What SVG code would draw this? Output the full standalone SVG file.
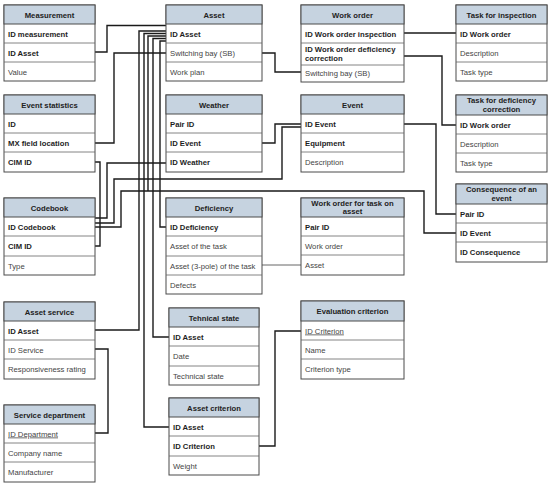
<svg xmlns="http://www.w3.org/2000/svg" width="550" height="486" viewBox="0 0 550 486">
<style>
.box{fill:#fff;stroke:#4a4a4a;stroke-width:1}
.hdr{fill:#c6d3e0;stroke:#4a4a4a;stroke-width:1}
.sep{stroke:#666;stroke-width:0.8}
text{font-family:"Liberation Sans",Arial,sans-serif;font-size:7.7px}
.h{font-weight:bold;text-anchor:middle;fill:#222}
.k{font-weight:bold;fill:#1e1e1e}
.f{fill:#444}
.u{text-decoration:underline}
.c{fill:none;stroke:#1a1a1a;stroke-width:1.4}
.t{fill:none;stroke:#555;stroke-width:0.9}
</style>
<rect width="550" height="486" fill="#fff"/>
<g id="connectors">
<path class="c" d="M95,52H107V25.5H166"/>
<path class="c" d="M95,143H114V53H166"/>
<path class="c" d="M262,53H275V72H301"/>
<path class="c" d="M262,143H275V124H301"/>
<path class="c" d="M404,33H456"/>
<path class="c" d="M404,56H442V125H456"/>
<path class="c" d="M404,124H436V214H456"/>
<path class="c" d="M95,162H100V246H95"/>
<path class="c" d="M95,218H107V163H166"/>
<path class="c" d="M95,223H114V179H282V127H301"/>
<path class="c" d="M95,227H121V191H424V233H456"/>
<path class="c" d="M166,31H139V330H95"/>
<path class="c" d="M166,33.5H144V427H169"/>
<path class="c" d="M166,36H148V191"/>
<path class="c" d="M166,38.5H153V337H169"/>
<path class="c" d="M166,41H160V227H166"/>
<path class="t" d="M262,265H301"/>
<path class="c" d="M259,446H275V331H301"/>
<path class="c" d="M95,349H108V433H95"/>
</g>
<g id="measurement">
<rect class="box" x="4" y="5" width="91" height="76"/>
<rect class="hdr" x="4" y="5" width="91" height="19"/>
<line class="sep" x1="4" y1="43" x2="95" y2="43"/><line class="sep" x1="4" y1="62" x2="95" y2="62"/>
<text class="h" x="49.5" y="17.5">Measurement</text>
<text class="k" x="8" y="36.5">ID measurement</text>
<text class="k" x="8" y="55.5">ID Asset</text>
<text class="f" x="8" y="74.5">Value</text>
</g>
<g id="asset">
<rect class="box" x="166" y="5" width="96" height="76"/>
<rect class="hdr" x="166" y="5" width="96" height="19"/>
<line class="sep" x1="166" y1="43" x2="262" y2="43"/><line class="sep" x1="166" y1="62" x2="262" y2="62"/>
<text class="h" x="214" y="17.5">Asset</text>
<text class="k" x="170" y="36.5">ID Asset</text>
<text class="f" x="170" y="55.5">Switching bay (SB)</text>
<text class="f" x="170" y="74.5">Work plan</text>
</g>
<g id="work-order">
<rect class="box" x="301" y="5" width="103" height="77"/>
<rect class="hdr" x="301" y="5" width="103" height="19"/>
<line class="sep" x1="301" y1="43" x2="404" y2="43"/><line class="sep" x1="301" y1="65" x2="404" y2="65"/>
<text class="h" x="352.5" y="17.5">Work order</text>
<text class="k" x="305" y="36.5">ID Work order inspection</text>
<text class="k" x="305" y="52">ID Work order deficiency</text>
<text class="k" x="305" y="61">correction</text>
<text class="f" x="305" y="76">Switching bay (SB)</text>
</g>
<g id="task-inspection">
<rect class="box" x="456" y="5" width="91" height="76"/>
<rect class="hdr" x="456" y="5" width="91" height="19"/>
<line class="sep" x1="456" y1="43" x2="547" y2="43"/><line class="sep" x1="456" y1="62" x2="547" y2="62"/>
<text class="h" x="501.5" y="17.5">Task for inspection</text>
<text class="k" x="460" y="36.5">ID Work order</text>
<text class="f" x="460" y="55.5">Description</text>
<text class="f" x="460" y="74.5">Task type</text>
</g>
<g id="event-statistics">
<rect class="box" x="4" y="95" width="91" height="77"/>
<rect class="hdr" x="4" y="95" width="91" height="19"/>
<line class="sep" x1="4" y1="133" x2="95" y2="133"/><line class="sep" x1="4" y1="152" x2="95" y2="152"/>
<text class="h" x="49.5" y="107.5">Event statistics</text>
<text class="k" x="8" y="126.5">ID</text>
<text class="k" x="8" y="145.5">MX field location</text>
<text class="k" x="8" y="165">CIM ID</text>
</g>
<g id="weather">
<rect class="box" x="166" y="95" width="96" height="77"/>
<rect class="hdr" x="166" y="95" width="96" height="19"/>
<line class="sep" x1="166" y1="133" x2="262" y2="133"/><line class="sep" x1="166" y1="152" x2="262" y2="152"/>
<text class="h" x="214" y="107.5">Weather</text>
<text class="k" x="170" y="126.5">Pair ID</text>
<text class="k" x="170" y="145.5">ID Event</text>
<text class="k" x="170" y="165">ID Weather</text>
</g>
<g id="event">
<rect class="box" x="301" y="95" width="103" height="77"/>
<rect class="hdr" x="301" y="95" width="103" height="19"/>
<line class="sep" x1="301" y1="133" x2="404" y2="133"/><line class="sep" x1="301" y1="152" x2="404" y2="152"/>
<text class="h" x="352.5" y="107.5">Event</text>
<text class="k" x="305" y="126.5">ID Event</text>
<text class="k" x="305" y="145.5">Equipment</text>
<text class="f" x="305" y="165">Description</text>
</g>
<g id="task-deficiency">
<rect class="box" x="456" y="95" width="91" height="77"/>
<rect class="hdr" x="456" y="95" width="91" height="20"/>
<line class="sep" x1="456" y1="134" x2="547" y2="134"/><line class="sep" x1="456" y1="153" x2="547" y2="153"/>
<text class="h" x="501.5" y="103">Task for deficiency</text>
<text class="h" x="501.5" y="112">correction</text>
<text class="k" x="460" y="127.5">ID Work order</text>
<text class="f" x="460" y="146.5">Description</text>
<text class="f" x="460" y="165.5">Task type</text>
</g>
<g id="consequence">
<rect class="box" x="456" y="184" width="91" height="78"/>
<rect class="hdr" x="456" y="184" width="91" height="20"/>
<line class="sep" x1="456" y1="223" x2="547" y2="223"/><line class="sep" x1="456" y1="242" x2="547" y2="242"/>
<text class="h" x="501.5" y="192">Consequence of an</text>
<text class="h" x="501.5" y="201">event</text>
<text class="k" x="460" y="216.5">Pair ID</text>
<text class="k" x="460" y="235.5">ID Event</text>
<text class="k" x="460" y="255">ID Consequence</text>
</g>
<g id="codebook">
<rect class="box" x="4" y="198" width="91" height="77"/>
<rect class="hdr" x="4" y="198" width="91" height="19"/>
<line class="sep" x1="4" y1="236" x2="95" y2="236"/><line class="sep" x1="4" y1="256" x2="95" y2="256"/>
<text class="h" x="49.5" y="210.5">Codebook</text>
<text class="k" x="8" y="229.5">ID Codebook</text>
<text class="k" x="8" y="249">CIM ID</text>
<text class="f" x="8" y="268.5">Type</text>
</g>
<g id="deficiency">
<rect class="box" x="166" y="198" width="96" height="96"/>
<rect class="hdr" x="166" y="198" width="96" height="19"/>
<line class="sep" x1="166" y1="236" x2="262" y2="236"/><line class="sep" x1="166" y1="256" x2="262" y2="256"/><line class="sep" x1="166" y1="275" x2="262" y2="275"/>
<text class="h" x="214" y="210.5">Deficiency</text>
<text class="k" x="170" y="229.5">ID Deficiency</text>
<text class="f" x="170" y="249">Asset of the task</text>
<text class="f" x="170" y="268.5">Asset (3-pole) of the task</text>
<text class="f" x="170" y="287.5">Defects</text>
</g>
<g id="work-order-task-asset">
<rect class="box" x="301" y="198" width="103" height="77"/>
<rect class="hdr" x="301" y="198" width="103" height="19"/>
<line class="sep" x1="301" y1="236" x2="404" y2="236"/><line class="sep" x1="301" y1="255" x2="404" y2="255"/>
<text class="h" x="352.5" y="205.5">Work order for task on</text>
<text class="h" x="352.5" y="214">asset</text>
<text class="k" x="305" y="229.5">Pair ID</text>
<text class="f" x="305" y="248.5">Work order</text>
<text class="f" x="305" y="268">Asset</text>
</g>
<g id="asset-service">
<rect class="box" x="4" y="302" width="91" height="77"/>
<rect class="hdr" x="4" y="302" width="91" height="19"/>
<line class="sep" x1="4" y1="340" x2="95" y2="340"/><line class="sep" x1="4" y1="359" x2="95" y2="359"/>
<text class="h" x="49.5" y="314.5">Asset service</text>
<text class="k" x="8" y="333.5">ID Asset</text>
<text class="f" x="8" y="352.5">ID Service</text>
<text class="f" x="8" y="372">Responsiveness rating</text>
</g>
<g id="technical-state">
<rect class="box" x="169" y="308" width="90" height="77"/>
<rect class="hdr" x="169" y="308" width="90" height="19"/>
<line class="sep" x1="169" y1="346" x2="259" y2="346"/><line class="sep" x1="169" y1="366" x2="259" y2="366"/>
<text class="h" x="214" y="320.5">Tehnical state</text>
<text class="k" x="173" y="339.5">ID Asset</text>
<text class="f" x="173" y="359">Date</text>
<text class="f" x="173" y="378.5">Technical state</text>
</g>
<g id="evaluation-criterion">
<rect class="box" x="301" y="301" width="103" height="78"/>
<rect class="hdr" x="301" y="301" width="103" height="20"/>
<line class="sep" x1="301" y1="340" x2="404" y2="340"/><line class="sep" x1="301" y1="359" x2="404" y2="359"/>
<text class="h" x="352.5" y="314">Evaluation criterion</text>
<text class="f u" x="305" y="333.5">ID Criterion</text>
<text class="f" x="305" y="352.5">Name</text>
<text class="f" x="305" y="372">Criterion type</text>
</g>
<g id="service-department">
<rect class="box" x="4" y="405" width="91" height="77"/>
<rect class="hdr" x="4" y="405" width="91" height="19"/>
<line class="sep" x1="4" y1="443" x2="95" y2="443"/><line class="sep" x1="4" y1="462" x2="95" y2="462"/>
<text class="h" x="49.5" y="417.5">Service department</text>
<text class="f u" x="8" y="436.5">ID Department</text>
<text class="f" x="8" y="455.5">Company name</text>
<text class="f" x="8" y="475">Manufacturer</text>
</g>
<g id="asset-criterion">
<rect class="box" x="169" y="398" width="90" height="77"/>
<rect class="hdr" x="169" y="398" width="90" height="19"/>
<line class="sep" x1="169" y1="436" x2="259" y2="436"/><line class="sep" x1="169" y1="456" x2="259" y2="456"/>
<text class="h" x="214" y="410.5">Asset criterion</text>
<text class="k" x="173" y="429.5">ID Asset</text>
<text class="k" x="173" y="449">ID Criterion</text>
<text class="f" x="173" y="468.5">Weight</text>
</g>
</svg>
